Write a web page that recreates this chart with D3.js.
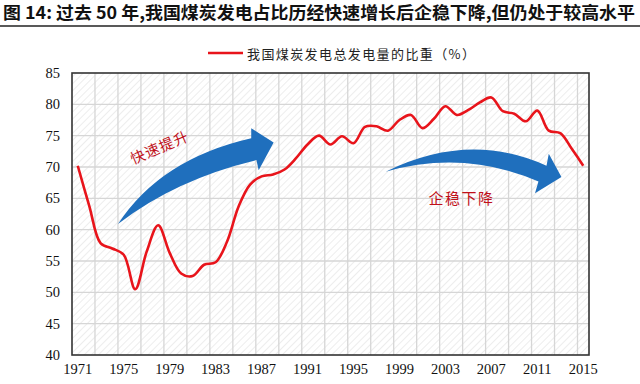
<!DOCTYPE html>
<html>
<head>
<meta charset="utf-8">
<script src="https://cdn.jsdelivr.net/npm/d3@7"></script>
<style>
  body { margin: 0; background: #fff; }
  svg { display: block; }
</style>
</head>
<body>
<svg id="chart" width="640" height="384"></svg>
<script>
// data
var years = d3.range(1971, 2016)
var coalShare = [70.2, 63.8, 57.8, 57.0, 56.0, 50.5, 56.5, 60.7, 56.3, 53.0,
                 52.6, 54.4, 54.8, 58.1, 63.7, 67.2, 68.5, 68.8, 69.6, 71.4,
                 73.6, 75.0, 73.6, 74.9, 73.8, 76.4, 76.5, 75.8, 77.5, 78.3,
                 76.2, 77.7, 79.7, 78.3, 79.1, 80.3, 81.1, 78.9, 78.5, 77.3,
                 79.0, 75.8, 75.4, 72.9, 70.2]
var yTicks = [40, 45, 50, 55, 60, 65, 70, 75, 80, 85]
var xTickYears = [1971, 1975, 1979, 1983, 1987, 1991, 1995, 1999, 2003, 2007, 2011, 2015]
var titleText = "图 14: 过去 50 年,我国煤炭发电占比历经快速增长后企稳下降,但仍处于较高水平"
var legendText = "我国煤炭发电总发电量的比重（%）"
var upLabel = "快速提升"
var downLabel = "企稳下降"

// arrow outlines in data units [year, value]
var upArrow = {
    tail: [1974.5, 60.9],
    upperCtrl: [1978.2, 71.3],
    upperEnd: [1986.1, 74.6],
    headTop: [1986.1, 76.2],
    tip: [1988.05, 73.9],
    headBottom: [1986.75, 69.5],
    lowerStart: [1986.55, 71.1],
    lowerCtrl: [1979.5, 68.0]
}
var downArrow = {
    tail: [1997.8, 69.25],
    upperCtrl: [2005.1, 75.8],
    upperEnd: [2011.8, 70.2],
    headTop: [2012.0, 72.1],
    tip: [2013.1, 68.4],
    headBottom: [2010.8, 65.8],
    lowerStart: [2011.1, 67.7],
    lowerCtrl: [2004.6, 72.8]
}

var svg = d3.select("#chart")

var dims = {
    width: 640,
    height: 384,
    margin: { top: 73, bottom: 29, left: 72, right: 51 }
}
var plotW = dims.width - dims.margin.left - dims.margin.right
var plotH = dims.height - dims.margin.top - dims.margin.bottom

var x = d3.scaleBand()
          .domain(years)
          .range([dims.margin.left, dims.margin.left + plotW])
var xc = d => x(d) + x.bandwidth() / 2
// continuous year -> pixel, for annotations
var xYear = d3.scaleLinear()
              .domain([1971, 2015])
              .range([xc(1971), xc(2015)])
var y = d3.scaleLinear()
          .domain([40, 85])
          .range([dims.margin.top + plotH, dims.margin.top])

// title
svg.append("text")
   .attr("x", 3)
   .attr("y", 19)
   .attr("font-family", "Noto Sans CJK SC")
   .attr("font-weight", "bold")
   .attr("font-size", 17)
   .attr("fill", "#111")
   .attr("textLength", 632)
   .attr("lengthAdjust", "spacingAndGlyphs")
   .text(titleText)

svg.append("line")
   .attr("x1", 0).attr("x2", 640)
   .attr("y1", 26).attr("y2", 26)
   .attr("stroke", "#222")
   .attr("stroke-width", 1.6)

// hatched plot background
var defs = svg.append("defs")
var pat = defs.append("pattern")
   .attr("id", "hatch")
   .attr("patternUnits", "userSpaceOnUse")
   .attr("width", 5).attr("height", 5)
   .attr("patternTransform", "rotate(45)")
pat.append("rect").attr("width", 5).attr("height", 5).attr("fill", "#fff")
pat.append("line")
   .attr("x1", 0).attr("y1", 0).attr("x2", 0).attr("y2", 5)
   .attr("stroke", "#e9e9e9").attr("stroke-width", 1.6)

svg.append("rect")
   .attr("x", dims.margin.left).attr("y", dims.margin.top)
   .attr("width", plotW).attr("height", plotH)
   .attr("fill", "url(#hatch)")

// gridlines
var grid = svg.append("g").attr("stroke", "#d6d6d6").attr("stroke-width", 1.3)
grid.selectAll(".hgrid")
    .data(yTicks.slice(1, -1))
    .enter()
    .append("line")
    .attr("x1", dims.margin.left).attr("x2", dims.margin.left + plotW)
    .attr("y1", d => y(d)).attr("y2", d => y(d))
grid.selectAll(".vgrid")
    .data(years.filter((d, i) => i > 0 && i % 2 == 0))
    .enter()
    .append("line")
    .attr("x1", d => x(d)).attr("x2", d => x(d))
    .attr("y1", dims.margin.top).attr("y2", dims.margin.top + plotH)

// frame
svg.append("rect")
   .attr("x", dims.margin.left).attr("y", dims.margin.top)
   .attr("width", plotW).attr("height", plotH)
   .attr("fill", "none")
   .attr("stroke", "#333")
   .attr("stroke-width", 1.6)

// axes
var yAxis = svg.append("g")
   .attr("transform", "translate(" + dims.margin.left + ",0)")
   .call(d3.axisLeft(y).tickValues(yTicks).tickSize(0).tickPadding(12))
var xAxis = svg.append("g")
   .attr("transform", "translate(0," + (dims.margin.top + plotH) + ")")
   .call(d3.axisBottom(x).tickValues(xTickYears).tickSize(0).tickPadding(9))
;[xAxis, yAxis].forEach(a => {
    a.select(".domain").remove()
    a.selectAll("text")
     .attr("font-family", "Liberation Serif")
     .attr("font-size", 14.5)
     .attr("fill", "#111")
})

// annotation arrows
var pt = p => [xYear(p[0]), y(p[1])]
function arrowPath(a) {
    var path = d3.path()
    var t = pt(a.tail), uc = pt(a.upperCtrl), ue = pt(a.upperEnd)
    var ht = pt(a.headTop), tp = pt(a.tip), hb = pt(a.headBottom)
    var ls = pt(a.lowerStart), lc = pt(a.lowerCtrl)
    path.moveTo(t[0], t[1])
    path.quadraticCurveTo(uc[0], uc[1], ue[0], ue[1])
    path.lineTo(ht[0], ht[1])
    path.lineTo(tp[0], tp[1])
    path.lineTo(hb[0], hb[1])
    path.lineTo(ls[0], ls[1])
    path.quadraticCurveTo(lc[0], lc[1], t[0], t[1])
    path.closePath()
    return path.toString()
}
svg.selectAll(".arrow")
   .data([upArrow, downArrow])
   .enter()
   .append("path")
   .attr("class", "arrow")
   .attr("d", d => arrowPath(d))
   .attr("fill", "#1f6fbd")

// series line
var line = d3.line()
             .x((d, i) => xc(years[i]))
             .y(d => y(d))
             .curve(d3.curveCatmullRom.alpha(0.5))
svg.append("path")
   .datum(coalShare)
   .attr("d", line)
   .attr("fill", "none")
   .attr("stroke", "#e8141b")
   .attr("stroke-width", 2.6)

// annotation labels
svg.append("text")
   .attr("transform", "translate(" + xYear(1978.1) + "," + y(73.3) + ") rotate(-23)")
   .attr("text-anchor", "middle")
   .attr("dominant-baseline", "central")
   .attr("font-family", "Noto Sans CJK SC")
   .attr("font-size", 14.5)
   .attr("letter-spacing", 1)
   .attr("fill", "#c0101a")
   .text(upLabel)
svg.append("text")
   .attr("x", xYear(2004.4)).attr("y", y(65.1))
   .attr("text-anchor", "middle")
   .attr("dominant-baseline", "central")
   .attr("font-family", "Noto Sans CJK SC")
   .attr("font-size", 15)
   .attr("letter-spacing", 1.5)
   .attr("fill", "#c0101a")
   .text(downLabel)

// legend
svg.append("line")
   .attr("x1", 208).attr("x2", 243)
   .attr("y1", 53).attr("y2", 53)
   .attr("stroke", "#e8141b")
   .attr("stroke-width", 2.6)
svg.append("text")
   .attr("x", 247).attr("y", 53)
   .attr("dominant-baseline", "central")
   .attr("font-family", "Noto Sans CJK SC")
   .attr("font-size", 13)
   .attr("fill", "#222")
   .attr("textLength", 228)
   .attr("lengthAdjust", "spacing")
   .text(legendText)
</script>
</body>
</html>
